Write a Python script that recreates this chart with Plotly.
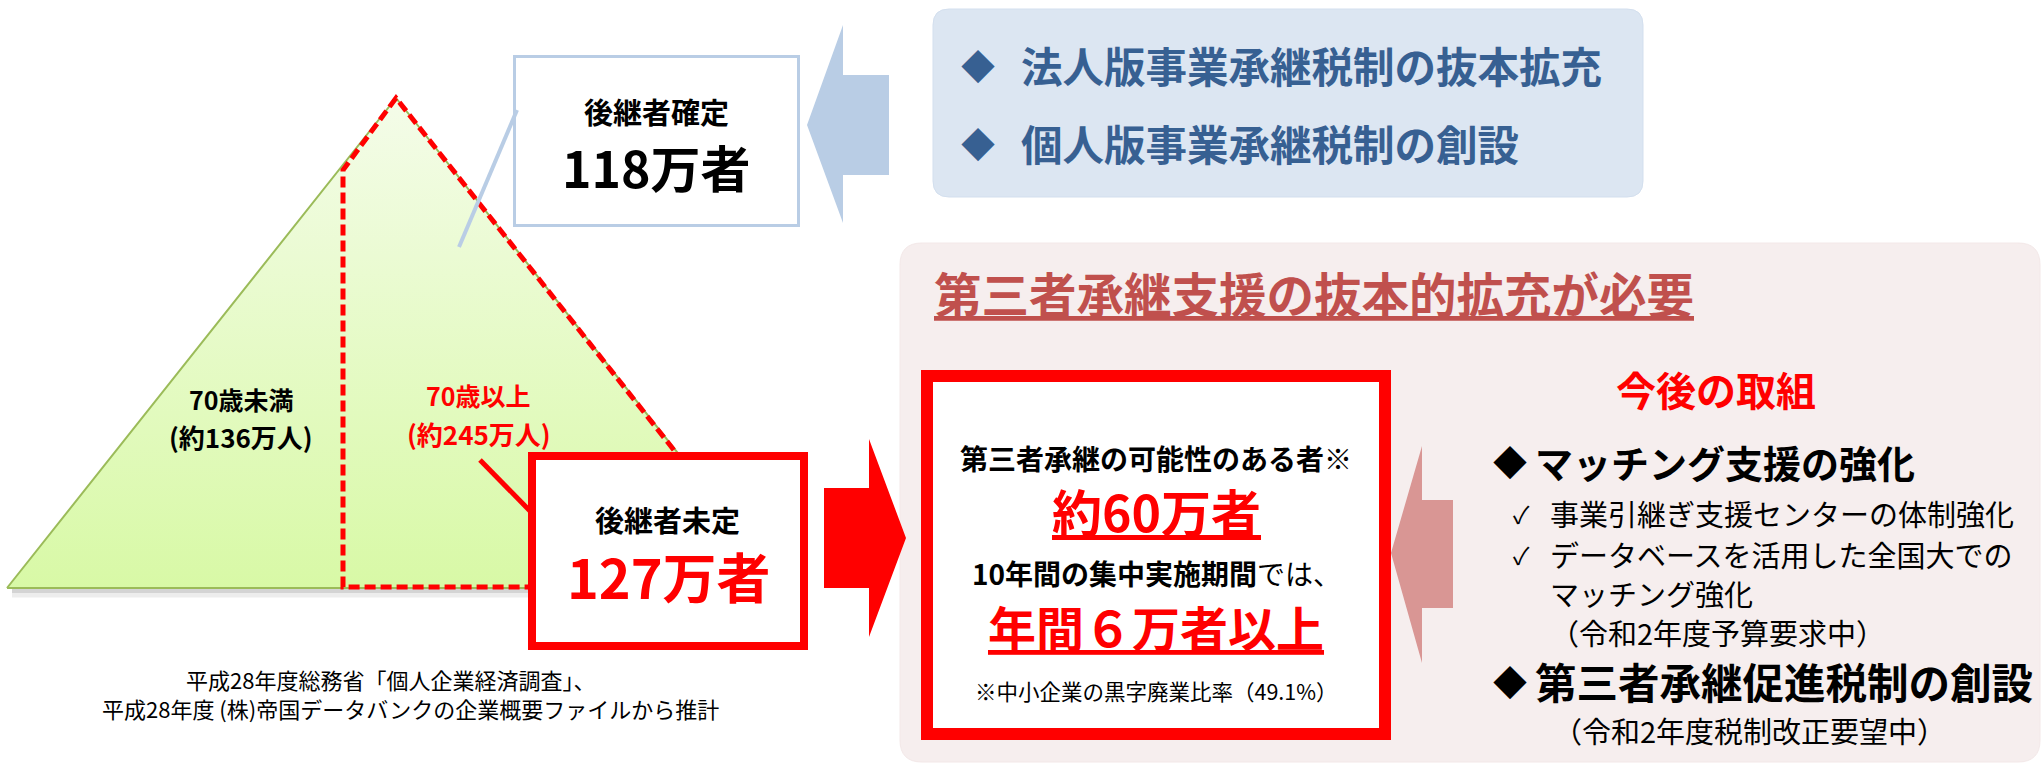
import plotly.graph_objects as go

# ---------------- data ----------------
age_groups = ["70歳未満", "70歳以上"]
age_counts = [136, 245]                 # 万人
successor_labels = ["後継者確定", "後継者未定"]
successor_counts = [118, 127]           # 万者
third_party_total = 60                  # 万者
annual_target = "６"                    # 万者/年
closure_rate = 49.1                     # %
policy_items = ["法人版事業承継税制の抜本拡充", "個人版事業承継税制の創設"]
future_items = ["マッチング支援の強化", "第三者承継促進税制の創設"]
sub_items = ["事業引継ぎ支援センターの体制強化", "データベースを活用した全国大での", "マッチング強化",
             "（令和2年度予算要求中）"]
sub_item2 = "（令和2年度税制改正要望中）"
source_lines = ["平成28年度総務省「個人企業経済調査」、", "平成28年度 (株)帝国データバンクの企業概要ファイルから推計"]

W, H = 2043, 767
FONT = "Noto Sans CJK JP"
RED = "#ff0000"
BLUE_T = "#376092"
LBLUE = "#b9cde5"

fig = go.Figure()

# triangle (gradient)
tri_x = [7, 396, 785, 7]
tri_y = [588, 98, 588, 588]
fig.add_trace(go.Scatter(
    x=tri_x, y=tri_y, mode="lines", fill="toself",
    line=dict(color="#9bbb59", width=2),
    fillgradient=dict(type="vertical", start=98, stop=588,
                      colorscale=[[0, "#f4fce9"], [1, "#d8f9a6"]]),
    hoverinfo="skip", showlegend=False))


def rrect(x0, y0, x1, y1, r):
    return (f"M {x0+r},{y0} L {x1-r},{y0} Q {x1},{y0} {x1},{y0+r} L {x1},{y1-r} "
            f"Q {x1},{y1} {x1-r},{y1} L {x0+r},{y1} Q {x0},{y1} {x0},{y1-r} "
            f"L {x0},{y0+r} Q {x0},{y0} {x0+r},{y0} Z")


shapes = []
# shadow under base
shapes.append(dict(type="line", x0=12, x1=790, y0=593, y1=593, layer="below",
                   line=dict(color="rgba(0,0,0,0.07)", width=9)))
shapes.append(dict(type="line", x0=12, x1=790, y0=591, y1=591, layer="below",
                   line=dict(color="rgba(0,0,0,0.10)", width=4)))
# red dashed region (70歳以上)
shapes.append(dict(type="path", path="M 396,98 L 343,170 L 343,587 L 782,587 Z",
                   line=dict(color=RED, width=5, dash="11px,5px")))
# blue rounded box
shapes.append(dict(type="path", path=rrect(933, 9, 1643, 197, 16),
                   fillcolor="#dce6f2", line=dict(color="#d3dfee", width=1)))
# pink rounded box
shapes.append(dict(type="path", path=rrect(900, 243, 2040, 762, 22),
                   fillcolor="#f6eeee", line=dict(color="#f3e8e8", width=1)))
# blue arrow
shapes.append(dict(type="path", path="M 807,125 L 843,25 L 843,75 L 889,75 L 889,175 L 843,175 L 843,223 Z",
                   fillcolor=LBLUE, line=dict(width=0)))
# red arrow
shapes.append(dict(type="path", path="M 824,488 L 869,488 L 869,439 L 906,538 L 869,637 L 869,588 L 824,588 Z",
                   fillcolor=RED, line=dict(width=0)))
# pink arrow
shapes.append(dict(type="path", path="M 1391,553 L 1422,446 L 1422,500 L 1453,500 L 1453,608 L 1422,608 L 1422,663 Z",
                   fillcolor="#d99694", line=dict(width=0)))
# box 後継者確定
shapes.append(dict(type="rect", x0=514.5, y0=56.5, x1=798.5, y1=225.5,
                   fillcolor="white", line=dict(color=LBLUE, width=3)))
# box 後継者未定
shapes.append(dict(type="rect", x0=532, y0=456, x1=804, y1=646,
                   fillcolor="white", line=dict(color=RED, width=8)))
# inner red box
shapes.append(dict(type="rect", x0=927, y0=376, x1=1385, y1=734,
                   fillcolor="white", line=dict(color=RED, width=12)))
# callout lines
shapes.append(dict(type="line", x0=459, y0=247, x1=517, y1=110,
                   line=dict(color=LBLUE, width=4)))
shapes.append(dict(type="line", x0=480, y0=460, x1=531, y1=512,
                   line=dict(color=RED, width=5)))

ann = []


def T(x, y, text, size, color="black", xanchor="center"):
    ann.append(dict(x=x, y=y, xref="x", yref="y", text=text, showarrow=False,
                    xanchor=xanchor, yanchor="middle", borderpad=0,
                    font=dict(family=FONT, size=size, color=color)))


# triangle labels
T(241, 399, f"<b>{age_groups[0]}</b>", 25)
T(241, 436, f"<b>(約{age_counts[0]}万人)</b>", 26)
T(478, 395, f"<b>{age_groups[1]}</b>", 25, RED)
T(479, 433, f"<b>(約{age_counts[1]}万人)</b>", 26, RED)
# successor boxes
T(656, 111, f"<b>{successor_labels[0]}</b>", 29)
T(656, 166, f"<b>{successor_counts[0]}万者</b>", 50)
T(667, 519, f"<b>{successor_labels[1]}</b>", 29)
T(669, 575, f"<b>{successor_counts[1]}万者</b>", 54, RED)
# source
T(390, 679, source_lines[0], 22)
T(410, 708, source_lines[1], 22)
# blue box
for yy, item in zip([65, 143], policy_items):
    T(978, yy, "◆", 34, BLUE_T)
    T(1020, yy, f"<b>{item}</b>", 41.5, BLUE_T, "left")
# pink title
T(933, 292, "<b><u>第三者承継支援の抜本的拡充が必要</u></b>", 47.5, "#c0504d", "left")
# inner red box texts
T(1156, 458, "<b>第三者承継の可能性のある者※</b>", 28)
T(1156, 510, f"<b><u>約{third_party_total}万者</u></b>", 50, RED)
T(1156, 573, "<b>10年間の集中実施期間</b>では、", 28)
T(1156, 626, f"<b><u>年間{annual_target}万者以上</u></b>", 48, RED)
T(1156, 690, f"※中小企業の黒字廃業比率（{closure_rate}%）", 21.5)
# right side
T(1716, 389, "<b>今後の取組</b>", 40, RED)
T(1510, 461, "◆", 34)
T(1534, 461, f"<b>{future_items[0]}</b>", 38, "black", "left")
T(1521, 513, "✓", 24)
T(1521, 554, "✓", 24)
for yy, s in zip([513, 554, 593, 632], sub_items):
    T(1549, yy, s, 29, "black", "left")
T(1510, 681, "◆", 34)
T(1534, 681, f"<b>{future_items[1]}</b>", 41.5, "black", "left")
T(1552, 730, sub_item2, 29, "black", "left")

fig.update_layout(
    width=W, height=H, margin=dict(l=0, r=0, t=0, b=0),
    paper_bgcolor="white", plot_bgcolor="white",
    xaxis=dict(range=[0, W], visible=False, fixedrange=True),
    yaxis=dict(range=[H, 0], visible=False, fixedrange=True),
    shapes=shapes, annotations=ann, showlegend=False,
)
fig.write_html("out.html", config={"displayModeBar": False})
